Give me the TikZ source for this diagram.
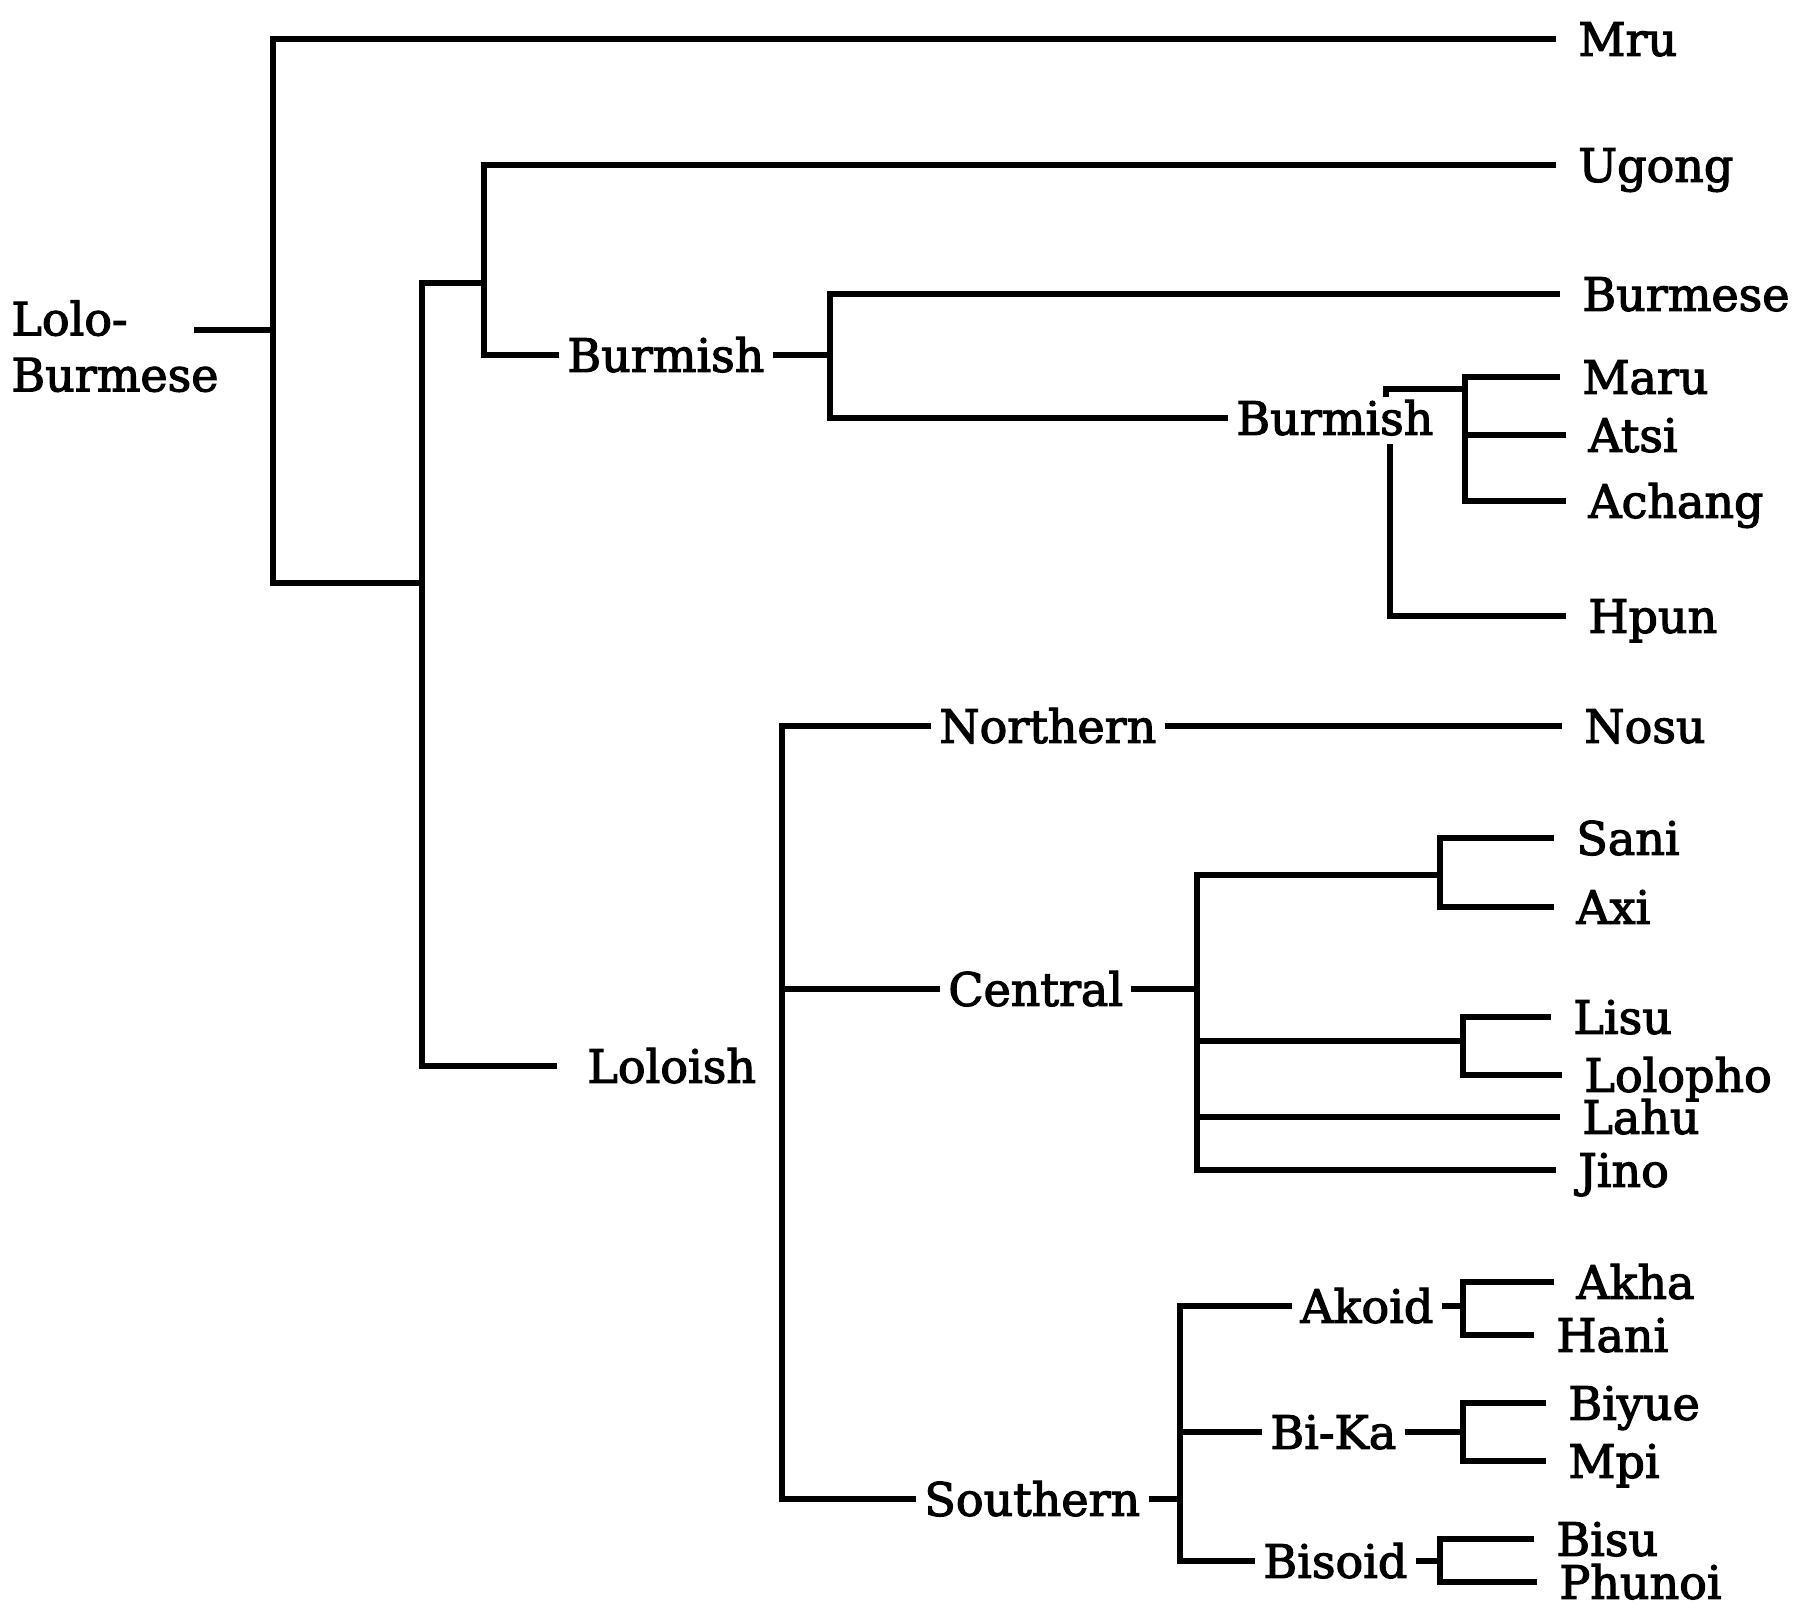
\documentclass[tikz,border=0pt]{standalone}
\usepackage{fontspec}
\setmainfont{DejaVu Serif}
\newfontfamily\treefont[FakeBold=2.5]{DejaVu Serif}

\tikzset{
  branch/.style={line width=2.6pt},
  leaf/.style={anchor=west, inner xsep=11pt, inner ysep=0pt, text height=16.8pt, text depth=0pt},
  clade/.style={anchor=west, inner xsep=4pt, inner ysep=0pt, text height=16.8pt, text depth=0pt},
}

\begin{document}
\begin{tikzpicture}[x=0.5pt, y=-0.5pt, every node/.style={font=\treefont\fontsize{23}{28}\selectfont}]
  \useasboundingbox (0,0) rectangle (1796,1608);

  % Languages
  \foreach \n/\t/\x/\y in {mru/Mru/1556/39, ugong/Ugong/1556/165, burmese/Burmese/1560/294,
      maru/Maru/1560/377, atsi/Atsi/1566/435, achang/Achang/1566/501, hpun/Hpun/1566/616,
      nosu/Nosu/1562/726, sani/Sani/1554/838, axi/Axi/1554/907, lisu/Lisu/1551/1017,
      lolopho/Lolopho/1562/1075, lahu/Lahu/1560/1117, jino/Jino/1556/1170,
      akha/Akha/1554/1282, hani/Hani/1534/1335, biyue/Biyue/1546/1403, mpi/Mpi/1546/1461,
      bisu/Bisu/1534/1539, phunoi/Phunoi/1537/1582}
    \node[leaf] (\n) at (\x,\y) {\t};

  % Subgroups
  \node[anchor=north west, align=left, inner sep=0pt] (lolo) at (11,300) {Lolo-\\Burmese};
  \node[clade] (burmishA) at (559,355) {Burmish};
  \node[clade] (burmishB) at (1228,418) {Burmish};
  \node[clade] (loloish) at (579,1066) {Loloish};
  \node[clade] (northern) at (931,726) {Northern};
  \node[clade] (central) at (940,989) {Central};
  \node[clade] (southern) at (916,1499) {Southern};
  \node[clade] (akoid) at (1292,1306) {Akoid};
  \node[clade] (bika) at (1262,1432) {Bi-Ka};
  \node[clade] (bisoid) at (1255,1561) {Bisoid};

  % Junctions
  \coordinate (lolostub) at (194,330);
  \coordinate (kRoot) at (273,330);
  \coordinate (kBL) at (422,583);
  \coordinate (kBU) at (484,283);
  \coordinate (kBur) at (830,355);
  \coordinate (kMaru) at (1465,389);
  \coordinate (kTick) at (1386,397);
  \coordinate (kHpun) at (1390,444);
  \coordinate (kLol) at (782,989);
  \coordinate (kCen) at (1197,989);
  \coordinate (kSani) at (1440,875);
  \coordinate (kLisu) at (1463,1041);
  \coordinate (kSou) at (1180,1499);
  \coordinate (kAk) at (1463,1306);
  \coordinate (kBK) at (1463,1432);
  \coordinate (kBis) at (1440,1561);

  % Lolo-Burmese
  \draw[branch] (lolostub) -- (kRoot);
  \draw[branch] (mru.west) -| (kRoot) |- (kBL);
  \draw[branch] (ugong.west) -| (kBU) |- (burmishA.west);
  \draw[branch] (kBU) -| (kBL) |- ([xshift=-11pt]loloish.west);

  % Burmish
  \draw[branch] (burmishA.east) -- (kBur);
  \draw[branch] (burmese.west) -| (kBur) |- (burmishB.west);
  \draw[branch] (maru.west) -| (kMaru) |- (achang.west);
  \draw[branch] (atsi.west) -- (atsi.west -| kMaru);
  \draw[branch] (kTick) |- (kMaru);
  \draw[branch] (kHpun) |- (hpun.west);

  % Loloish
  \draw[branch] (northern.east) -- (nosu.west);
  \draw[branch] (northern.west) -| (kLol) |- (southern.west);
  \draw[branch] (central.west) -- (kLol);

  % Central
  \draw[branch] (central.east) -- (kCen);
  \draw[branch] (kSani) -| (kCen) |- (jino.west);
  \draw[branch] (sani.west) -| (kSani) |- (axi.west);
  \draw[branch] (kLisu) -- (kLisu -| kCen);
  \draw[branch] (lisu.west) -| (kLisu) |- (lolopho.west);
  \draw[branch] (lahu.west) -- (lahu.west -| kCen);

  % Southern
  \draw[branch] (southern.east) -- (kSou);
  \draw[branch] (akoid.west) -| (kSou) |- (bisoid.west);
  \draw[branch] (bika.west) -- (bika.west -| kSou);
  \foreach \g/\a/\b/\k in {akoid/akha/hani/kAk, bika/biyue/mpi/kBK, bisoid/bisu/phunoi/kBis} {
    \draw[branch] (\g.east) -- (\k);
    \draw[branch] (\a.west) -| (\k) |- (\b.west);
  }
\end{tikzpicture}
\end{document}
